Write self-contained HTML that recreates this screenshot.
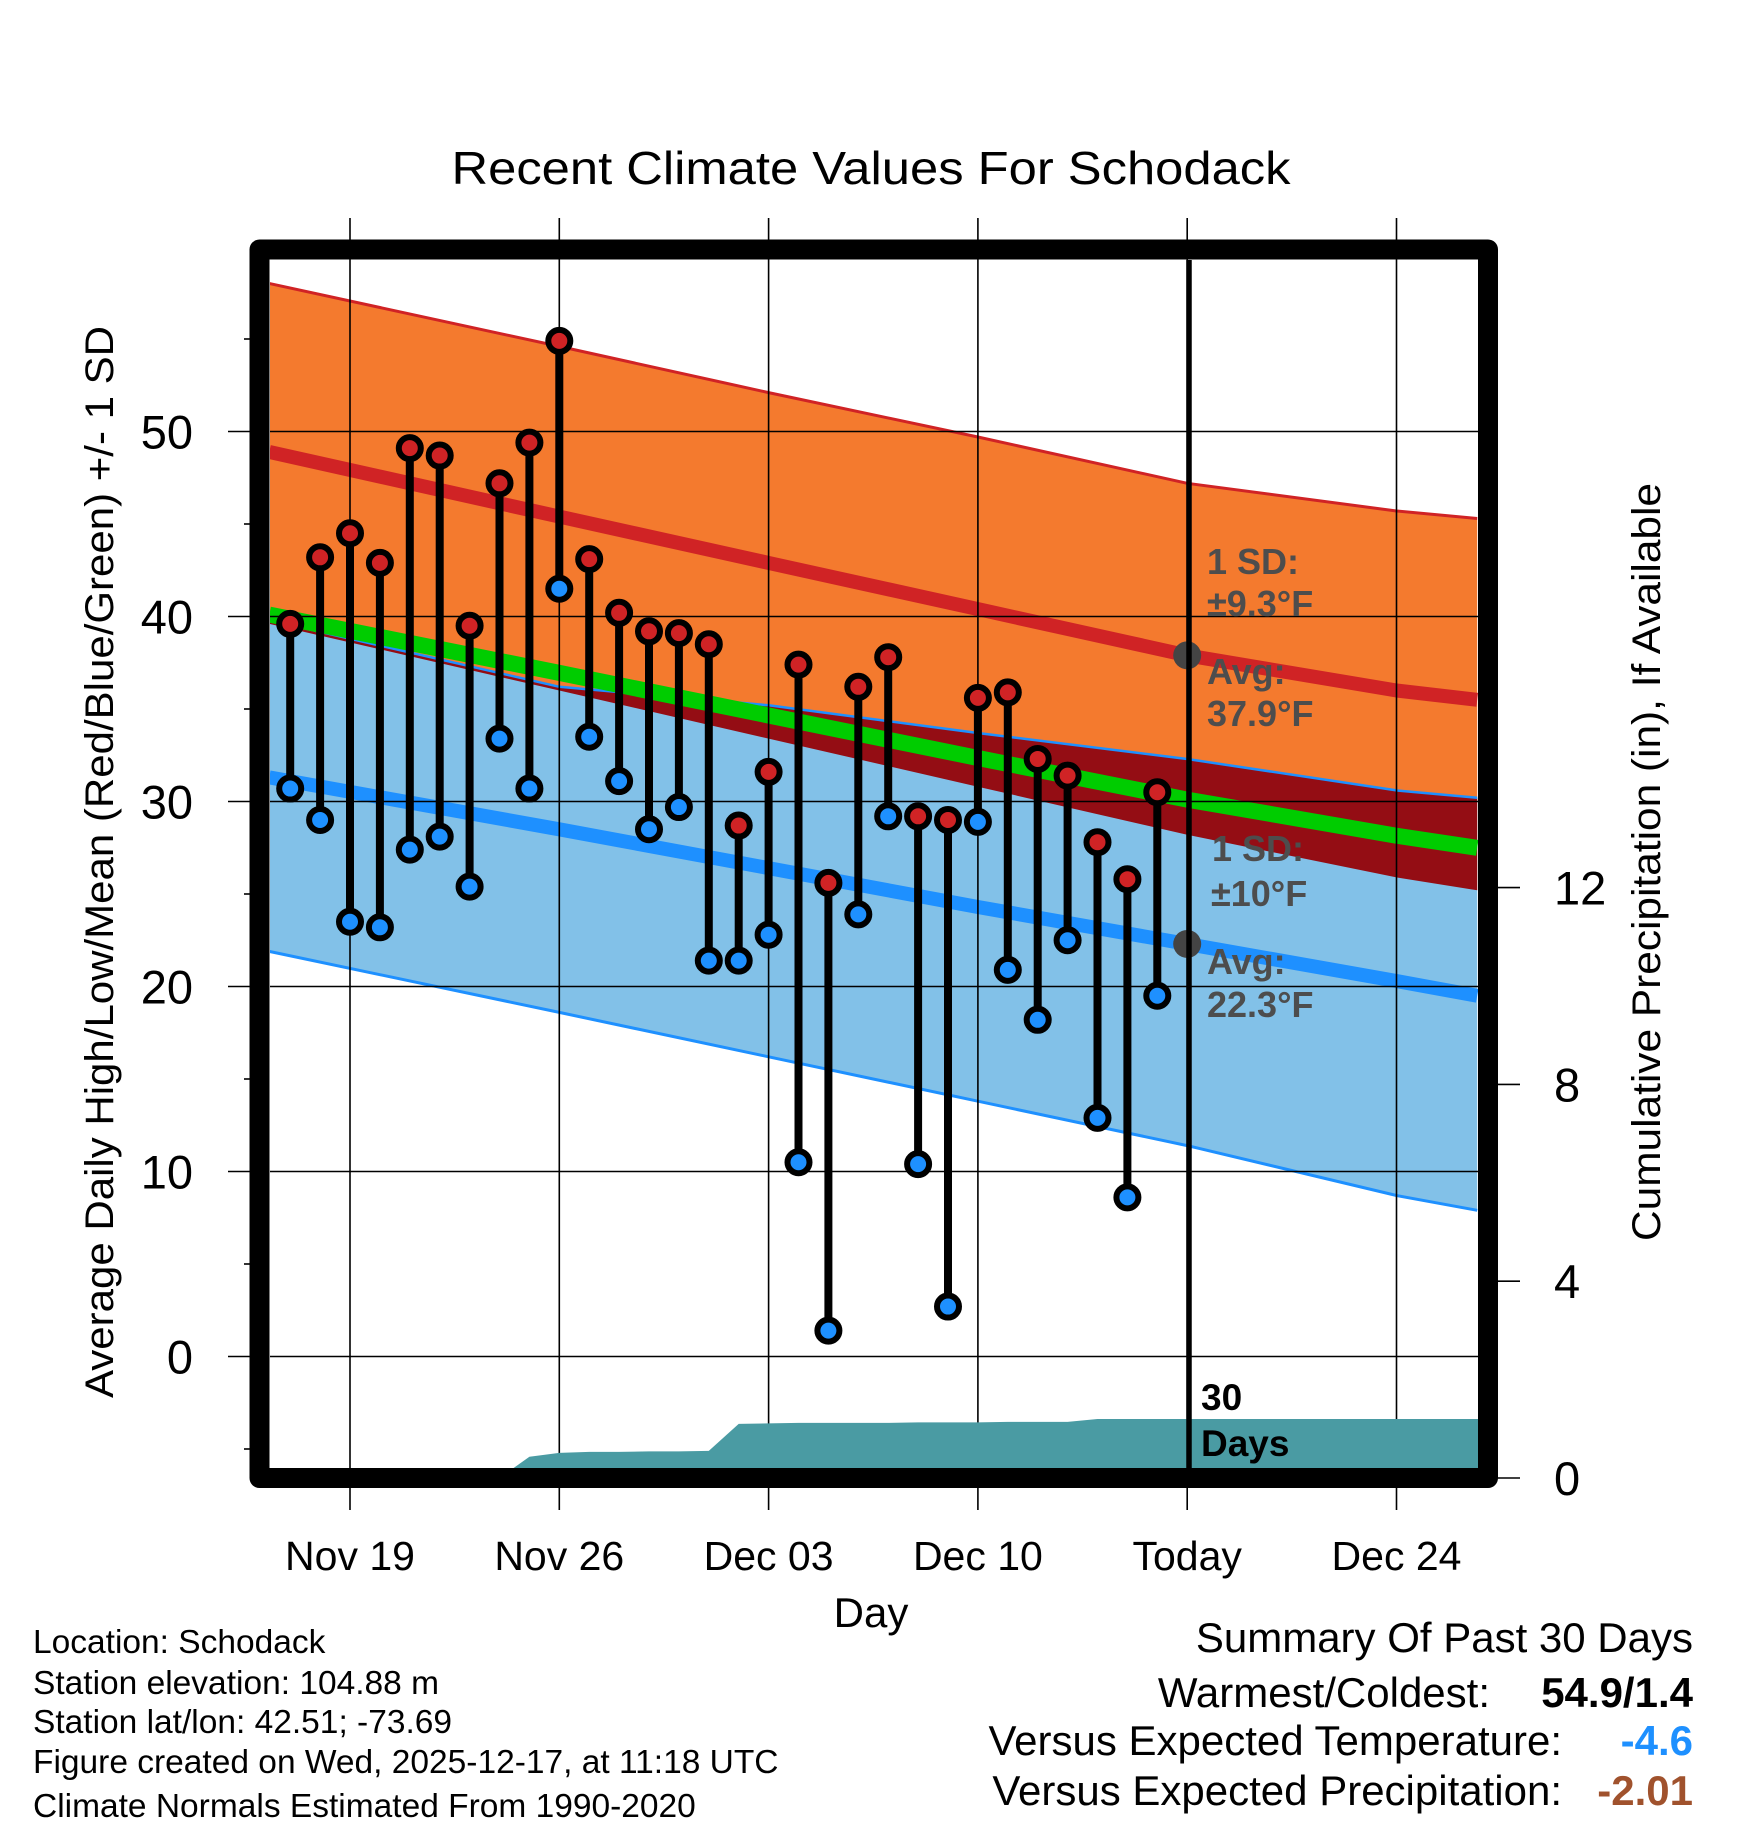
<!DOCTYPE html>
<html><head><meta charset="utf-8"><title>Recent Climate Values For Schodack</title>
<style>
html,body{margin:0;padding:0;background:#fff;}
svg{display:block;font-family:"Liberation Sans",Arial,sans-serif;}
</style></head>
<body>
<svg id="chart" xmlns="http://www.w3.org/2000/svg" width="1748" height="1828" viewBox="0 0 1748 1828">
<defs><clipPath id="plotclip"><rect x="270" y="260" width="1208" height="1208"/></clipPath></defs>
<rect x="0" y="0" width="1748" height="1828" fill="#fff"/>
<text x="871" y="184" font-size="46" text-anchor="middle" textLength="839" lengthAdjust="spacingAndGlyphs">Recent Climate Values For Schodack</text>
<g id="bands" clip-path="url(#plotclip)"></g>
<g id="grid"></g>
<g id="annot"></g>
<g id="precip" clip-path="url(#plotclip)"></g>
<g id="data"></g>
<line x1="1189" y1="260" x2="1189" y2="1468" stroke="#000" stroke-width="5.5"/>
<text x="1201" y="1410" font-size="37" font-weight="bold">30</text>
<text x="1201" y="1456" font-size="37" font-weight="bold">Days</text>
<rect x="259.5" y="249.5" width="1228.5" height="1228.5" fill="none" stroke="#000" stroke-width="20" stroke-linejoin="round"/>
<g id="axes"></g>
<text transform="translate(113,862) rotate(-90)" font-size="40" text-anchor="middle" textLength="1072" lengthAdjust="spacingAndGlyphs">Average Daily High/Low/Mean (Red/Blue/Green) +/- 1 SD</text>
<text transform="translate(1660,862) rotate(-90)" font-size="40" text-anchor="middle" textLength="758" lengthAdjust="spacingAndGlyphs">Cumulative Precipitation (in), If Available</text>
<text x="871" y="1627" font-size="42" text-anchor="middle">Day</text>
<g font-size="33.5">
<text x="33" y="1653">Location: Schodack</text>
<text x="33" y="1694">Station elevation: 104.88 m</text>
<text x="33" y="1733">Station lat/lon: 42.51; -73.69</text>
<text x="33" y="1773">Figure created on Wed, 2025-12-17, at 11:18 UTC</text>
<text x="33" y="1817">Climate Normals Estimated From 1990-2020</text>
</g>
<g font-size="42">
<text x="1693" y="1652" text-anchor="end">Summary Of Past 30 Days</text>
<text x="1490" y="1707" text-anchor="end">Warmest/Coldest:</text>
<text x="1693" y="1707" text-anchor="end" font-weight="bold">54.9/1.4</text>
<text x="1562" y="1755" text-anchor="end">Versus Expected Temperature:</text>
<text x="1693" y="1755" text-anchor="end" font-weight="bold" fill="#1e90ff">-4.6</text>
<text x="1562" y="1805" text-anchor="end">Versus Expected Precipitation:</text>
<text x="1693" y="1805" text-anchor="end" font-weight="bold" fill="#a0522d">-2.01</text>
</g>
</svg>
<script>
// ---- data ----
const dayLabels = ["Nov 17","Nov 18","Nov 19","Nov 20","Nov 21","Nov 22","Nov 23","Nov 24","Nov 25","Nov 26","Nov 27","Nov 28","Nov 29","Nov 30","Dec 01","Dec 02","Dec 03","Dec 04","Dec 05","Dec 06","Dec 07","Dec 08","Dec 09","Dec 10","Dec 11","Dec 12","Dec 13","Dec 14","Dec 15","Dec 16"];
const highs = [39.6,43.2,44.5,42.9,49.1,48.7,39.5,47.2,49.4,54.9,43.1,40.2,39.2,39.1,38.5,28.7,31.6,37.4,25.6,36.2,37.8,29.2,29.0,35.6,35.9,32.3,31.4,27.8,25.8,30.5];
const lows = [30.7,29.0,23.5,23.2,27.4,28.1,25.4,33.4,30.7,41.5,33.5,31.1,28.5,29.7,21.4,21.4,22.8,10.5,1.4,23.9,29.2,10.4,2.7,28.9,20.9,18.2,22.5,12.9,8.6,19.5];
const precipCum = [0,0,0,0,0,0,0,0,0.43,0.51,0.53,0.53,0.54,0.54,0.55,1.10,1.11,1.12,1.12,1.12,1.12,1.13,1.13,1.13,1.14,1.14,1.14,1.20,1.20,1.20];
const normalDays = [-0.7,9,16,23,30,37,39.7];
const hiUpper = [58.0,54.6,52.1,49.7,47.2,45.7,45.3];
const hiAvg = [48.9,45.4,42.9,40.4,37.9,36.0,35.5];
const hiLower = [39.6,36.0,33.4,30.8,28.2,25.9,25.2];
const loUpper = [39.8,36.2,35.2,33.7,32.3,30.6,30.2];
const loAvg = [31.3,28.5,26.4,24.3,22.3,20.3,19.5];
const loLower = [21.9,18.6,16.2,13.8,11.4,8.7,7.9];
const xTickDays = [2,9,16,23,30,37];
const xTickLabels = ["Nov 19","Nov 26","Dec 03","Dec 10","Today","Dec 24"];
const yTicks = [0,10,20,30,40,50];
const yMinorTicks = [-5,5,15,25,35,45,55];
const pTicks = [0,4,8,12];

// ---- scales ----
const X = d => 290.2 + d*29.9;
const Y = v => 1356.5 - 18.5*v;
const YP = p => 1478 - 49.2*p;
const NS = "http://www.w3.org/2000/svg";
function mk(tag, attrs, parent){const e=document.createElementNS(NS,tag);for(const k in attrs)e.setAttribute(k,attrs[k]);parent.appendChild(e);return e;}
const pts = arr => normalDays.map((d,i)=>X(d).toFixed(1)+","+Y(arr[i]).toFixed(1));
const poly = (top,bot) => pts(top).concat(pts(bot).reverse()).join(" ");

// ---- bands ----
const bands = document.getElementById('bands');
let e;
e = mk('polygon',{points:poly(hiUpper,hiLower),fill:'#f47a2e'},bands);


e = mk('polygon',{points:poly(loUpper,loLower),fill:'#82c1e8'},bands);


const ovTop = loUpper.map((v,i)=>Math.min(v,hiUpper[i]));
const ovBot = hiLower.map((v,i)=>Math.max(v,loLower[i]));
e = mk('polygon',{points:poly(ovTop,ovBot),fill:'#940d14'},bands);


e = mk('polyline',{points:pts(hiUpper).join(" "),fill:'none',stroke:'#d02325','stroke-width':3},bands);


e = mk('polyline',{points:pts(loUpper).join(" "),fill:'none',stroke:'#1e90ff','stroke-width':2.5},bands);


e = mk('polyline',{points:pts(loLower).join(" "),fill:'none',stroke:'#1e90ff','stroke-width':3},bands);


e = mk('polyline',{points:pts(loAvg).join(" "),fill:'none',stroke:'#1e90ff','stroke-width':14},bands);


e = mk('polyline',{points:pts(hiAvg).join(" "),fill:'none',stroke:'#d02325','stroke-width':14},bands);


const meanVals = hiAvg.map((v,i)=>(v+loAvg[i])/2);
e = mk('polyline',{points:pts(meanVals).join(" "),fill:'none',stroke:'#00cc00','stroke-width':16},bands);



// ---- grid ----
const grid = document.getElementById('grid');
xTickDays.forEach((d,i)=>{
  const g = mk('line',{x1:X(d),x2:X(d),y1:218,y2:1510,stroke:'#000','stroke-width':1.6},grid);
  
  
});
yTicks.forEach(v=>{
  const g = mk('line',{x1:270,x2:1478,y1:Y(v),y2:Y(v),stroke:'#000','stroke-width':1.6},grid);
  
  
});

// ---- annotations ----
const annot = document.getElementById('annot');
const todayIdx = 4;
[[hiAvg[todayIdx],'high-avg-marker'],[loAvg[todayIdx],'low-avg-marker']].forEach(([v,n])=>{
  const c = mk('circle',{cx:X(30),cy:Y(v),r:14,fill:'#444'},annot);
  
  
});
const annotTexts = [[1207,574,'1 SD:'],[1207,616,'±9.3°F'],[1207,684,'Avg:'],[1207,726,'37.9°F'],[1212,861,'1 SD:'],[1211,906,'±10°F'],[1207,974,'Avg:'],[1207,1017,'22.3°F']];
annotTexts.forEach(([x,y,t])=>{
  const tx = mk('text',{x:x,y:y,'font-size':36,'font-weight':'bold',fill:'#4d4d4d'},annot);
  tx.textContent = t;
  
  
});

// ---- precip ----
const pg = document.getElementById('precip');
let pp = [X(-1)+","+YP(0)];
precipCum.forEach((p,i)=>pp.push(X(i).toFixed(1)+","+YP(p).toFixed(1)));
pp.push("1480,"+YP(precipCum[precipCum.length-1]).toFixed(1));
pp.push("1480,1480");
pp.push(X(-1)+",1480");
e = mk('polygon',{points:pp.join(" "),fill:'#4a9ba3'},pg);



// ---- daily data ----
const dg = document.getElementById('data');
highs.forEach((h,i)=>{
  const l = lows[i];
  const bar = mk('line',{x1:X(i),x2:X(i),y1:Y(h),y2:Y(l),stroke:'#000','stroke-width':8},dg);
  
  
});
highs.forEach((h,i)=>{
  const ch = mk('circle',{cx:X(i),cy:Y(h),r:11,fill:'#d02325',stroke:'#000','stroke-width':6},dg);
  
  
  const cl = mk('circle',{cx:X(i),cy:Y(lows[i]),r:11,fill:'#1e90ff',stroke:'#000','stroke-width':6},dg);
  
  
});

// ---- axes ----
const ax = document.getElementById('axes');
yTicks.forEach(v=>{
  const t = mk('line',{x1:228,x2:252,y1:Y(v),y2:Y(v),stroke:'#000','stroke-width':1.6},ax);
  
  
  const lb = mk('text',{x:193,y:Y(v)+17,'font-size':47,'text-anchor':'end'},ax);
  lb.textContent = v;
  
  
});
yMinorTicks.forEach(v=>{
  const t = mk('line',{x1:244,x2:252,y1:Y(v),y2:Y(v),stroke:'#000','stroke-width':1.6},ax);
  
  
});
pTicks.forEach(p=>{
  const t = mk('line',{x1:1496,x2:1520,y1:YP(p),y2:YP(p),stroke:'#000','stroke-width':1.6},ax);
  
  
  const lb = mk('text',{x:1554,y:YP(p)+17,'font-size':47},ax);
  lb.textContent = p;
  
  
});
xTickDays.forEach((d,i)=>{
  const lb = mk('text',{x:X(d),y:1570,'font-size':41,'text-anchor':'middle'},ax);
  lb.textContent = xTickLabels[i];
  
  
});
</script>
</body></html>
